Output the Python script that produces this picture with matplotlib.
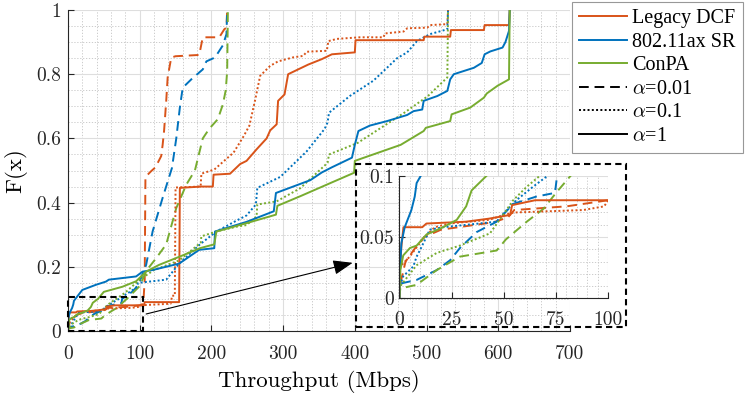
import matplotlib
matplotlib.use('Agg')
import matplotlib.pyplot as plt
from matplotlib.patches import Rectangle
from matplotlib.ticker import MultipleLocator
from matplotlib.lines import Line2D

plt.rcParams['mathtext.fontset'] = 'cm'
plt.rcParams['axes.formatter.use_mathtext'] = True

# ---------------- data ----------------
methods = ['Legacy DCF', '802.11ax SR', 'ConPA']
alphas = ['0.01', '0.1', '1']

# Legacy DCF
dcf_a001_x = [0, 0.5, 3, 8, 12, 20, 45, 52, 55, 80, 100, 105, 107, 108, 116, 122, 130, 132, 134, 137,
              139, 144, 150, 183, 188, 211, 218, 221, 222]
dcf_a001_y = [0, 0.012, 0.03, 0.042, 0.05, 0.056, 0.062, 0.066, 0.072, 0.075, 0.08, 0.085, 0.16, 0.48,
              0.498, 0.51, 0.545, 0.58, 0.623, 0.717, 0.79, 0.852, 0.856, 0.86, 0.915, 0.915, 0.94, 0.945, 1.0]
dcf_a01_x = [0, 0.5, 5, 12, 17, 24, 43, 50, 55, 88, 98, 100, 143, 144, 145, 149, 150, 185, 186, 204,
             231, 245, 253, 261, 268, 282, 293, 315, 328, 333, 361, 363, 375, 407, 440, 442, 468, 473,
             501, 505, 529, 530]
dcf_a01_y = [0, 0.026, 0.034, 0.050, 0.058, 0.061, 0.064, 0.068, 0.07, 0.072, 0.075, 0.08, 0.085, 0.092,
             0.11, 0.11, 0.447, 0.45, 0.49, 0.503, 0.556, 0.607, 0.64, 0.72, 0.795, 0.826, 0.84, 0.853,
             0.857, 0.87, 0.873, 0.903, 0.91, 0.915, 0.915, 0.927, 0.933, 0.943, 0.945, 0.953, 0.956, 1.0]
dcf_a1_x = [0, 0.3, 1, 2, 11, 13, 32, 43, 53, 54, 65, 106, 107, 155, 156, 186, 202, 203, 226, 240,
            249, 263, 277, 282, 291, 293, 302, 307, 321, 335, 354, 368, 400, 401, 496, 497, 533, 534,
            580, 581, 615, 616]
dcf_a1_y = [0, 0.023, 0.042, 0.058, 0.058, 0.061, 0.0625, 0.065, 0.068, 0.076, 0.08, 0.08, 0.09, 0.09,
            0.446, 0.45, 0.45, 0.487, 0.49, 0.52, 0.53, 0.566, 0.60, 0.625, 0.644, 0.717, 0.737, 0.80,
            0.815, 0.83, 0.847, 0.862, 0.868, 0.906, 0.906, 0.917, 0.917, 0.9375, 0.9375, 0.953, 0.953, 1.0]

# 802.11ax SR
sr_a001_x = [0, 0.5, 8.3, 17.9, 24.3, 29, 37, 46.6, 54.5, 65.6, 74.5, 75.5, 90, 98, 109, 118, 132, 145,
             151, 156, 160, 172, 188, 193, 205, 216, 221, 222]
sr_a001_y = [0, 0.012, 0.015, 0.023, 0.031, 0.041, 0.054, 0.0625, 0.077, 0.083, 0.086, 0.10, 0.123,
             0.143, 0.206, 0.31, 0.415, 0.508, 0.60, 0.696, 0.758, 0.784, 0.815, 0.84, 0.852, 0.89, 0.925, 1.0]
sr_a01_x = [0, 0.3, 1.9, 6.7, 8.3, 10.7, 14.6, 21, 46.6, 49.8, 56, 64, 71, 85, 95, 98, 137, 155, 184,
            207, 235, 249, 262, 264, 296, 333, 358, 362, 364, 393, 426, 459, 473, 487, 505, 529, 530]
sr_a01_y = [0, 0.01, 0.018, 0.026, 0.034, 0.042, 0.056, 0.058, 0.0625, 0.069, 0.08, 0.091, 0.10, 0.12,
            0.135, 0.15, 0.16, 0.21, 0.27, 0.31, 0.344, 0.36, 0.394, 0.446, 0.48, 0.56, 0.63, 0.65,
            0.68, 0.732, 0.78, 0.85, 0.868, 0.904, 0.925, 0.94, 1.0]
sr_a1_x = [0, 0.3, 1, 2.6, 4.2, 5.8, 7.4, 8.3, 10.3, 20, 39, 53, 57, 95, 104, 118, 155, 183, 204, 205,
           249, 287, 290, 338, 354, 368, 396, 400, 405, 421, 445, 473, 482, 494, 496, 515, 529, 533,
           538, 566, 577, 581, 589, 606, 610, 615, 616]
sr_a1_y = [0, 0.02, 0.045, 0.058, 0.065, 0.072, 0.083, 0.094, 0.10, 0.128, 0.144, 0.154, 0.16, 0.17,
           0.185, 0.19, 0.21, 0.253, 0.258, 0.31, 0.34, 0.373, 0.43, 0.47, 0.494, 0.51, 0.54, 0.58,
           0.623, 0.64, 0.654, 0.673, 0.685, 0.69, 0.717, 0.732, 0.748, 0.784, 0.80, 0.82, 0.835,
           0.862, 0.871, 0.883, 0.90, 0.935, 1.0]

# ConPA
cp_a001_x = [0, 0.5, 8.3, 17.9, 29, 46.6, 51, 61, 69, 75, 82, 100, 110, 123, 137, 151, 165, 177, 188,
             197, 209, 216, 220, 222, 223]
cp_a001_y = [0, 0.008, 0.011, 0.023, 0.034, 0.039, 0.048, 0.0625, 0.073, 0.086, 0.10, 0.14, 0.19,
             0.227, 0.27, 0.383, 0.456, 0.50, 0.60, 0.63, 0.66, 0.706, 0.75, 0.81, 1.0]
cp_a01_x = [0, 0.5, 8.3, 17.9, 29, 43.4, 48, 54.5, 61, 67.3, 80, 100, 120, 155, 185, 186, 207, 235,
            249, 263, 264, 291, 324, 362, 364, 404, 469, 502, 529, 530]
cp_a01_y = [0, 0.01, 0.027, 0.037, 0.043, 0.053, 0.064, 0.080, 0.091, 0.10, 0.12, 0.16, 0.19, 0.22,
            0.275, 0.295, 0.31, 0.325, 0.33, 0.357, 0.394, 0.404, 0.445, 0.524, 0.55, 0.586, 0.68,
            0.732, 0.79, 1.0]
cp_a1_x = [0, 0.5, 1.9, 5.1, 8.3, 13, 21, 27.5, 32, 34.6, 37, 41.8, 50, 76, 95, 109, 127, 156, 184,
           204, 207, 249, 290, 292, 324, 365, 399, 400, 464, 496, 499, 533, 535, 561, 580, 584, 599,
           615, 616]
cp_a1_y = [0, 0.023, 0.035, 0.041, 0.043, 0.052, 0.058, 0.064, 0.075, 0.088, 0.092, 0.10, 0.122,
           0.138, 0.155, 0.185, 0.206, 0.232, 0.258, 0.27, 0.31, 0.336, 0.3625, 0.39, 0.42, 0.46,
           0.493, 0.53, 0.58, 0.623, 0.633, 0.654, 0.675, 0.696, 0.727, 0.74, 0.764, 0.784, 1.0]

x_ticks = [0, 100, 200, 300, 400, 500, 600, 700]
x_ticklabels = ['0', '100', '200', '300', '400', '500', '600', '700']
y_ticks = [0, 0.2, 0.4, 0.6, 0.8, 1.0]
y_ticklabels = ['0', '0.2', '0.4', '0.6', '0.8', '1']
in_x_ticks = [0, 25, 50, 75, 100]
in_x_ticklabels = ['0', '25', '50', '75', '100']
in_y_ticks = [0, 0.05, 0.1]
in_y_ticklabels = ['0', '0.05', '0.1']

# ---------------- style ----------------
C_DCF = '#D95319'
C_SR = '#0072BD'
C_CP = '#77AC30'
colors = [C_DCF, C_SR, C_CP]
LW = 1.4
dash_style = {'0.01': dict(linestyle=(0, (5.0, 3.0))),
              '0.1': dict(linestyle=(0, (1.0, 1.2))),
              '1': dict(linestyle='-')}

series = [
    (dcf_a001_x, dcf_a001_y, C_DCF, '0.01'), (sr_a001_x, sr_a001_y, C_SR, '0.01'), (cp_a001_x, cp_a001_y, C_CP, '0.01'),
    (dcf_a01_x, dcf_a01_y, C_DCF, '0.1'), (sr_a01_x, sr_a01_y, C_SR, '0.1'), (cp_a01_x, cp_a01_y, C_CP, '0.1'),
    (dcf_a1_x, dcf_a1_y, C_DCF, '1'), (sr_a1_x, sr_a1_y, C_SR, '1'), (cp_a1_x, cp_a1_y, C_CP, '1'),
]

CM = 'cmr10'
fig = plt.figure(figsize=(7.47, 3.97), dpi=100)
ax = fig.add_axes([0.0910, 0.1662, 0.6720, 0.8086])


def style_axes(a, xmin, ymin, xt, xtl, yt, ytl, fs, xpad, ypad):
    a.set_xticks(xt)
    a.set_xticklabels(xtl, fontfamily=CM, fontsize=fs)
    a.set_yticks(yt)
    a.set_yticklabels(ytl, fontfamily=CM, fontsize=fs)
    a.xaxis.set_minor_locator(MultipleLocator(xmin))
    a.yaxis.set_minor_locator(MultipleLocator(ymin))
    a.grid(which='major', color='#dedede', lw=0.8, ls='-')
    a.grid(which='minor', color='#c4c4c4', lw=0.6, ls=(0, (1.5, 2)))
    a.set_axisbelow(True)
    for s in ['top', 'right']:
        a.spines[s].set_visible(False)
    for s in ['left', 'bottom']:
        a.spines[s].set_color('#262626')
        a.spines[s].set_linewidth(0.8)
    a.tick_params(which='major', direction='in', length=4, width=0.8, colors='#262626')
    a.tick_params(axis='x', which='major', pad=xpad, labelcolor='#262626')
    a.tick_params(axis='y', which='major', pad=ypad, labelcolor='#262626')
    a.tick_params(which='minor', length=0)


for xs, ys, c, al in series:
    ax.plot(xs, ys, color=c, lw=LW, **dash_style[al])
ax.set_xlim(0, 700)
ax.set_ylim(0, 1)
style_axes(ax, 20, 0.05, x_ticks, x_ticklabels, y_ticks, y_ticklabels, 14, 10, 5)
ax.set_xlabel('Throughput (Mbps)', fontfamily=CM, fontsize=16.5, labelpad=5)
ax.set_ylabel('F(x)', fontfamily=CM, fontsize=16.5, labelpad=6)

# zoom rectangle and arrow
ax.add_patch(Rectangle((0, 0), 105, 0.105, fill=False, ec='k', lw=1.5,
                       linestyle=(0, (3.0, 2.0)), clip_on=False, zorder=10))
ax.annotate('', xy=(397, 0.2125), xytext=(109, 0.053),
            arrowprops=dict(arrowstyle='-|>,head_length=0.8,head_width=0.3', color='k', lw=0.8,
                            shrinkA=0, shrinkB=0, mutation_scale=15),
            annotation_clip=False, zorder=10)

# inset
axin = fig.add_axes([0.5345, 0.2486, 0.2798, 0.3088])
for xs, ys, c, al in series:
    axin.plot(xs, ys, color=c, lw=LW, **dash_style[al])
axin.set_xlim(0, 100)
axin.set_ylim(0, 0.1)
style_axes(axin, 5, 0.01, in_x_ticks, in_x_ticklabels, in_y_ticks, in_y_ticklabels, 14, 9, 4)

fig.add_artist(Rectangle((356 / 747, 70 / 397), 270 / 747, 163 / 397, transform=fig.transFigure,
                         fill=False, ec='k', lw=1.5, linestyle=(0, (3.0, 2.0)), zorder=10))

# legend
handles = [Line2D([], [], color=c, lw=LW) for c in colors]
handles += [Line2D([], [], color='k', lw=LW, **dash_style[a]) for a in alphas]
labels = methods + [r'$\alpha$=' + a for a in alphas]
leg = fig.legend(handles, labels, loc='upper left', bbox_to_anchor=(572 / 747, 1 - 2 / 397),
                 borderaxespad=0, frameon=True, fancybox=False, edgecolor='#7f7f7f',
                 prop={'family': 'Liberation Serif', 'size': 14.5}, handlelength=2.4,
                 handletextpad=0.25, labelspacing=0.22, borderpad=0.35)
leg.get_frame().set_linewidth(0.8)

fig.savefig('out.png', dpi=100)
